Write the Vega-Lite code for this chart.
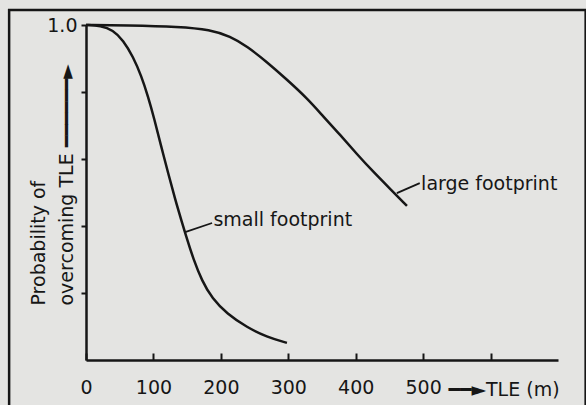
{
  "$schema": "https://vega.github.io/schema/vega-lite/v6.json",
  "width": 472,
  "height": 335,
  "autosize": {"type": "none"},
  "padding": {"left": 86, "top": 25, "right": 28, "bottom": 45},
  "background": "#e4e4e2",
  "config": {
    "view": {"stroke": null},
    "font": "DejaVu Sans",
    "axis": {
      "domainColor": "#161616",
      "domainWidth": 2.5,
      "tickColor": "#161616",
      "tickWidth": 2,
      "grid": false,
      "zindex": 1,
      "labelFont": "DejaVu Sans",
      "labelFontSize": 19,
      "labelColor": "#161616",
      "titleFont": "DejaVu Sans",
      "titleFontSize": 19,
      "titleFontWeight": "normal",
      "titleColor": "#161616"
    }
  },
  "datasets": {
    "curves": [
      {"series": "large footprint", "tle": 0, "p": 1.0},
      {"series": "large footprint", "tle": 60, "p": 0.999},
      {"series": "large footprint", "tle": 139, "p": 0.995},
      {"series": "large footprint", "tle": 184, "p": 0.986},
      {"series": "large footprint", "tle": 214, "p": 0.966},
      {"series": "large footprint", "tle": 239, "p": 0.936},
      {"series": "large footprint", "tle": 268, "p": 0.89},
      {"series": "large footprint", "tle": 298, "p": 0.837},
      {"series": "large footprint", "tle": 328, "p": 0.781},
      {"series": "large footprint", "tle": 351, "p": 0.729},
      {"series": "large footprint", "tle": 377, "p": 0.672},
      {"series": "large footprint", "tle": 402, "p": 0.614},
      {"series": "large footprint", "tle": 426, "p": 0.562},
      {"series": "large footprint", "tle": 451, "p": 0.511},
      {"series": "large footprint", "tle": 476, "p": 0.46},
      {"series": "small footprint", "tle": 0, "p": 1.0},
      {"series": "small footprint", "tle": 22, "p": 0.998},
      {"series": "small footprint", "tle": 40, "p": 0.985},
      {"series": "small footprint", "tle": 55, "p": 0.955},
      {"series": "small footprint", "tle": 70, "p": 0.905},
      {"series": "small footprint", "tle": 82, "p": 0.848},
      {"series": "small footprint", "tle": 92, "p": 0.787},
      {"series": "small footprint", "tle": 101, "p": 0.722},
      {"series": "small footprint", "tle": 111, "p": 0.641},
      {"series": "small footprint", "tle": 122, "p": 0.557},
      {"series": "small footprint", "tle": 132, "p": 0.481},
      {"series": "small footprint", "tle": 142, "p": 0.413},
      {"series": "small footprint", "tle": 150, "p": 0.36},
      {"series": "small footprint", "tle": 159, "p": 0.303},
      {"series": "small footprint", "tle": 172, "p": 0.236},
      {"series": "small footprint", "tle": 187, "p": 0.184},
      {"series": "small footprint", "tle": 209, "p": 0.138},
      {"series": "small footprint", "tle": 239, "p": 0.097},
      {"series": "small footprint", "tle": 268, "p": 0.069},
      {"series": "small footprint", "tle": 298, "p": 0.051}
    ],
    "leaders": [
      {"series": "large footprint", "tle": 461, "p": 0.498, "tle2": 495, "p2": 0.528},
      {"series": "small footprint", "tle": 147, "p": 0.382, "tle2": 187, "p2": 0.409}
    ],
    "labels": [
      {"series": "large footprint", "tle": 497, "p": 0.507},
      {"series": "small footprint", "tle": 189, "p": 0.4}
    ]
  },
  "layer": [
    {
      "data": {"values": [{"frame": "border"}]},
      "mark": {"type": "rect", "fill": "transparent", "stroke": "#161616", "strokeWidth": 2.5, "clip": false},
      "encoding": {
        "x": {"datum": -114, "type": "quantitative", "scale": {"domain": [0, 700], "nice": false}},
        "x2": {"datum": 741},
        "y": {"datum": 1.045, "type": "quantitative", "scale": {"domain": [0, 1], "nice": false}},
        "y2": {"datum": -0.5}
      }
    },
    {
      "data": {"name": "curves"},
      "mark": {"type": "line", "interpolate": "basis", "stroke": "#161616", "strokeWidth": 2.5},
      "encoding": {
        "detail": {"field": "series", "type": "nominal"},
        "x": {
          "field": "tle", "type": "quantitative",
          "scale": {"domain": [0, 700], "nice": false},
          "axis": {
            "values": [0, 100, 200, 300, 400, 500, 600],
            "labelExpr": "datum.value <= 500 ? datum.label : ''",
            "tickSize": -7,
            "labelPadding": 25,
            "labelFlush": false,
            "labelOverlap": false,
            "title": "━━►TLE (m)",
            "titleAnchor": "start",
            "titleAlign": "left",
            "titleBaseline": "alphabetic",
            "titleX": 362,
            "titleY": 35
          }
        },
        "y": {
          "field": "p", "type": "quantitative",
          "scale": {"domain": [0, 1], "nice": false},
          "axis": {
            "values": [0.2, 0.4, 0.6, 0.8, 1.0],
            "labelExpr": "datum.value == 1 ? '1.0' : ''",
            "tickSize": 5,
            "labelPadding": 4,
            "labelBaseline": "middle",
            "title": ["Probability of", "overcoming TLE ━━━━━━►"],
            "titleAngle": -90,
            "titleAlign": "left",
            "titleAnchor": "start",
            "titleBaseline": "top",
            "titleLineHeight": 28,
            "titleX": -57,
            "titleY": 280
          }
        }
      }
    },
    {
      "data": {"name": "leaders"},
      "mark": {"type": "rule", "stroke": "#161616", "strokeWidth": 1.8},
      "encoding": {
        "x": {"field": "tle", "type": "quantitative", "scale": {"domain": [0, 700], "nice": false}},
        "x2": {"field": "tle2"},
        "y": {"field": "p", "type": "quantitative", "scale": {"domain": [0, 1], "nice": false}},
        "y2": {"field": "p2"}
      }
    },
    {
      "data": {"name": "labels"},
      "mark": {"type": "text", "align": "left", "baseline": "alphabetic", "font": "DejaVu Sans", "fontSize": 19, "color": "#161616"},
      "encoding": {
        "x": {"field": "tle", "type": "quantitative", "scale": {"domain": [0, 700], "nice": false}},
        "y": {"field": "p", "type": "quantitative", "scale": {"domain": [0, 1], "nice": false}},
        "text": {"field": "series", "type": "nominal"}
      }
    }
  ]
}
